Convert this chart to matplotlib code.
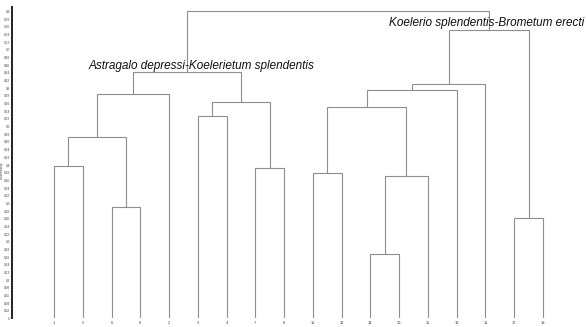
import matplotlib
matplotlib.use("Agg")
import matplotlib.pyplot as plt

# Leaf labels in dendrogram order
leaf_labels = ["1", "5", "6", "9", "2", "3", "4", "7", "8",
               "10", "12", "14", "16", "15", "13", "11", "17", "18"]

# Agglomeration steps: (left child, right child, dissimilarity)
# children < 18 are leaves; child 18+k refers to merge k
merges = [
    (0, 1, 0.396),
    (2, 3, 0.289),
    (18, 19, 0.471),
    (20, 4, 0.583),
    (5, 6, 0.526),
    (7, 8, 0.390),
    (22, 23, 0.5625),
    (21, 24, 0.640),
    (9, 10, 0.378),
    (11, 12, 0.167),
    (27, 13, 0.370),
    (26, 28, 0.550),
    (29, 14, 0.594),
    (30, 15, 0.610),
    (16, 17, 0.260),
    (31, 32, 0.750),
    (25, 33, 0.800),
]

group_labels = ["Astragalo depressi-Koelerietum splendentis",
                "Koelerio splendentis-Brometum erecti"]

plt.rcParams["font.family"] = ["Liberation Sans", "DejaVu Sans"]

fig = plt.figure(figsize=(5.86, 3.27), dpi=100)
ax = fig.add_axes([12 / 586, 9 / 327, 574 / 586, 310.8 / 327])

line_color = "#8e8e8e"
lw = 0.8

n = len(leaf_labels)
xpos = {i: float(i) for i in range(n)}
ypos = {i: 0.0 for i in range(n)}

for k, (a, b, h) in enumerate(merges):
    node = n + k
    xa, ya = xpos[a], ypos[a]
    xb, yb = xpos[b], ypos[b]
    ax.plot([xa, xa, xb, xb], [ya, h, h, yb], color=line_color, lw=lw,
            solid_joinstyle="miter", solid_capstyle="butt")
    xpos[node] = (xa + xb) / 2
    ypos[node] = h

ax.set_xlim(-1.46, 18.495)
ax.set_ylim(0, 0.81)

# y axis ticks with decimal comma
yticks = [i * 0.02 for i in range(41)]
ax.set_yticks(yticks)


def fmt(v):
    s = f"{v:.2f}".rstrip("0").rstrip(".")
    return s.replace(".", ",")


ax.set_yticklabels([fmt(v) for v in yticks], fontsize=2.3, color="#444444")
ax.tick_params(axis="y", length=1.0, width=0.6, pad=0.4, color="#333333")

ax.set_xticks(range(n))
ax.set_xticklabels(leaf_labels, fontsize=2.9, color="#444444")
ax.tick_params(axis="x", length=0, pad=2)

for side in ["top", "right", "bottom"]:
    ax.spines[side].set_visible(False)
ax.spines["left"].set_linewidth(1.4)
ax.spines["left"].set_color("#222222")

# axis title placed as a figure text so it stays inside the left margin
fig.text(1.6 / 586, 1 - 170 / 327, "Dissimilarity", fontsize=2.3,
         color="#444444", rotation=90, ha="center", va="center")

ax.text(5.14, 0.658, group_labels[0], fontsize=8.5, style="italic",
        ha="center", va="center", color="#111111")
ax.text(18.45, 0.77, group_labels[1], fontsize=8.5, style="italic",
        ha="right", va="center", color="#111111")

fig.savefig("out.png", dpi=100)
